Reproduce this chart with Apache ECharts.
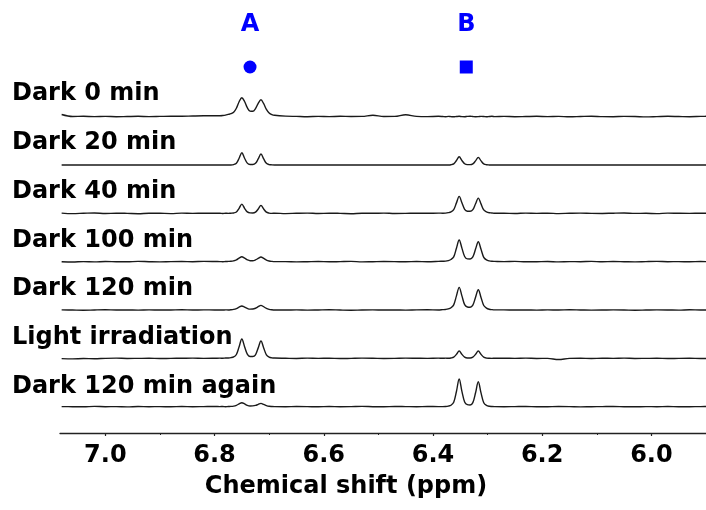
<!DOCTYPE html>
<html>
<head>
<meta charset="utf-8">
<script src="https://cdn.jsdelivr.net/npm/echarts@6/dist/echarts.min.js"></script>
<style>
  html, body { margin: 0; padding: 0; background: #fff; }
  #chart { width: 706px; height: 510px; }
</style>
</head>
<body>
<div id="chart"></div>
<script>
// Chemical shift sampling points (ppm), shared by every spectrum
const shift = [
  7.08, 7.06, 7.04, 7.02, 7.00, 6.98, 6.96, 6.94, 6.92, 6.90, 6.88, 6.86, 6.84, 6.82, 6.80,
  6.79, 6.785, 6.78, 6.775, 6.77, 6.765, 6.76, 6.755, 6.75, 6.745, 6.74, 6.735, 6.73, 6.725, 6.72, 6.715, 6.71, 6.705, 6.70, 6.695, 6.69,
  6.67, 6.65, 6.63, 6.61, 6.59, 6.57, 6.55, 6.53, 6.51, 6.49, 6.47, 6.45, 6.43, 6.41, 6.39,
  6.382, 6.377, 6.372, 6.367, 6.362, 6.357, 6.352, 6.347, 6.342, 6.337, 6.332, 6.327, 6.322, 6.317, 6.312, 6.307, 6.302, 6.297, 6.292, 6.287,
  6.27, 6.25, 6.23, 6.21, 6.19, 6.17, 6.15, 6.13, 6.11, 6.09, 6.07, 6.05, 6.03, 6.01, 5.99, 5.97, 5.95, 5.93, 5.91, 5.89
];

// Spectrum labels, top to bottom
const traceNames = ['Dark 0 min', 'Dark 20 min', 'Dark 40 min', 'Dark 100 min', 'Dark 120 min', 'Light irradiation', 'Dark 120 min again'];

// Intensities (arbitrary units) at each shift value
const dark0 = [
  2.2, 0.2, 0.4, 0.1, 0.3, 0.0, 0.2, 0.4, 0.1, 0.3, 0.5, 0.4, 0.7, 0.9, 0.9,
  1.0, 1.2, 1.6, 2.3, 3.0, 4.5, 8.5, 15.0, 19.0, 15.2, 9.0, 5.6, 5.4, 8.1, 13.4, 17.0, 13.0, 7.4, 3.8, 2.1, 1.4,
  0.6, 0.3, 0.0, 0.3, 0.1, 0.4, 0.2, 0.3, 1.4, 0.2, 0.3, 2.0, 0.3, 0.1, 0.4,
  0.2, 0.0, 0.3, 0.1, -0.1, 0.2, 0.4, 0.1, 0.0, 0.3, 0.5, 0.2, 0.0, 0.1, 0.3, 0.2, -0.1, 0.2, 0.4, 0.1,
  0.3, 0.0, 0.2, 0.4, 0.1, 0.3, -0.1, 0.2, 0.5, 0.1, 0.0, 0.3, 0.2, -0.2, 0.1, 0.4, 0.2, 0.0, 0.3, 0.5
];
const dark20 = [
  0.0, 0.1, 0.0, 0.1, 0.0, 0.0, 0.1, 0.0, 0.1, 0.0, 0.0, 0.1, 0.0, 0.1, 0.1,
  0.0, 0.1, 0.0, 0.1, 0.1, 0.5, 1.8, 6.8, 12.3, 6.8, 1.9, 0.6, 0.6, 1.7, 6.1, 11.0, 6.1, 1.7, 0.5, 0.2, 0.1,
  0.0, 0.1, 0.0, 0.0, 0.1, 0.0, 0.1, 0.0, 0.0, 0.1, 0.0, 0.1, 0.0, 0.0, 0.1,
  0.0, 0.1, 0.1, 0.3, 1.2, 4.6, 8.3, 4.6, 1.3, 0.4, 0.4, 1.2, 4.2, 7.7, 4.2, 1.2, 0.3, 0.1, 0.0, 0.1,
  0.0, 0.1, 0.0, 0.0, 0.1, 0.0, 0.1, 0.0, 0.1, 0.0, 0.0, 0.1, 0.0, 0.1, 0.0, 0.0, 0.1, 0.0, 0.1, 0.0
];
const dark40 = [
  0.3, -0.2, 0.1, 0.4, -0.1, 0.2, 0.0, -0.3, 0.2, 0.1, -0.2, 0.3, 0.0, 0.2, 0.1,
  0.1, -0.1, 0.2, 0.0, 0.2, 0.4, 1.4, 5.1, 9.3, 5.1, 1.5, 0.5, 0.4, 1.2, 4.4, 8.0, 4.4, 1.2, 0.3, 0.0, 0.2,
  -0.2, 0.1, 0.3, -0.1, 0.2, 0.0, -0.3, 0.2, 0.1, 0.3, -0.1, 0.0, 0.2, 0.1, 0.3,
  0.2, 0.3, 0.7, 1.5, 3.7, 10.5, 17.0, 10.6, 4.1, 2.2, 2.1, 3.7, 9.6, 15.3, 9.5, 3.4, 1.4, 0.6, 0.4, 0.1,
  0.2, -0.1, 0.3, 0.0, 0.2, -0.2, 0.1, 0.3, 0.0, -0.1, 0.2, 0.4, 0.0, 0.1, -0.2, 0.3, 0.1, 0.0, 0.2, 0.1
];
const dark100 = [
  0.0, -0.3, 0.1, -0.2, 0.2, 0.0, -0.1, 0.3, 0.0, -0.2, 0.1, 0.2, 0.0, 0.3, 0.2,
  0.1, 0.0, 0.2, 0.3, 0.4, 0.9, 1.8, 3.6, 5.0, 3.6, 1.9, 1.0, 1.0, 1.8, 3.3, 4.7, 3.3, 1.6, 0.7, 0.3, 0.1,
  0.1, -0.2, 0.0, 0.2, -0.1, 0.1, 0.3, -0.2, 0.0, 0.2, 0.1, -0.1, 0.2, 0.0, 0.3,
  0.5, 0.6, 1.1, 2.2, 4.8, 13.5, 21.7, 13.6, 5.2, 2.8, 2.7, 4.8, 12.6, 20.0, 12.4, 4.4, 1.8, 0.8, 0.4, 0.3,
  0.1, 0.3, -0.1, 0.0, 0.2, -0.2, 0.1, 0.0, 0.3, -0.1, 0.2, 0.0, -0.2, 0.1, 0.3, 0.0, 0.1, -0.1, 0.2, 0.0
];
const dark120 = [
  0.2, 0.0, -0.2, 0.1, 0.3, 0.0, 0.1, -0.1, 0.2, 0.0, 0.1, 0.3, 0.0, 0.2, 0.1,
  0.1, 0.0, 0.2, 0.1, 0.3, 0.7, 1.5, 2.9, 4.0, 2.9, 1.6, 0.9, 1.0, 1.8, 3.3, 4.7, 3.3, 1.6, 0.7, 0.3, 0.1,
  0.0, 0.2, -0.1, 0.1, 0.3, 0.0, -0.2, 0.1, 0.2, 0.0, 0.1, -0.1, 0.2, 0.3, 0.1,
  0.4, 0.6, 1.1, 2.3, 5.2, 14.2, 22.7, 14.2, 5.4, 3.0, 2.8, 4.9, 12.8, 20.3, 12.6, 4.5, 1.9, 0.8, 0.4, 0.2,
  0.2, 0.0, 0.1, -0.1, 0.2, 0.0, 0.3, 0.1, -0.1, 0.0, 0.2, 0.1, -0.2, 0.0, 0.2, 0.1, -0.1, 0.3, 0.0, 0.1
];
const light = [
  -0.3, -0.5, -0.2, -0.4, 0.0, 0.2, -0.1, 0.0, 0.1, -0.2, 0.0, 0.1, 0.2, 0.0, 0.1,
  0.2, 0.1, 0.3, 0.4, 0.7, 1.4, 3.9, 11.6, 19.3, 11.7, 4.2, 1.9, 1.8, 3.6, 10.5, 17.3, 10.4, 3.5, 1.2, 0.5, 0.3,
  0.1, -0.1, 0.2, 0.0, 0.1, -0.2, 0.0, 0.2, 0.1, -0.1, 0.0, 0.2, 0.1, 0.0, 0.2,
  0.1, 0.2, 0.1, 0.4, 1.2, 4.0, 7.3, 4.0, 1.2, 0.4, 0.4, 1.2, 4.0, 7.3, 4.0, 1.2, 0.3, 0.1, 0.0, 0.1,
  0.1, 0.0, 0.2, -0.1, 0.0, -1.2, 0.0, 0.1, -0.2, 0.1, 0.0, 0.2, -0.1, 0.0, 0.1, -0.2, 0.0, 0.1, -0.1, 0.0
];
const dark120Again = [
  0.1, 0.0, -0.1, 0.3, 0.0, 0.1, -0.2, 0.2, 0.0, 0.1, -0.1, 0.2, 0.0, 0.1, 0.2,
  0.1, 0.2, 0.0, 0.2, 0.3, 0.6, 1.4, 2.8, 4.0, 2.8, 1.3, 0.7, 0.8, 1.3, 2.3, 3.3, 2.3, 1.1, 0.4, 0.2, 0.1,
  0.0, 0.2, 0.1, -0.1, 0.2, 0.0, 0.1, 0.3, 0.0, -0.1, 0.2, 0.1, 0.0, 0.2, 0.1,
  0.1, 0.2, 0.6, 1.5, 4.4, 15.2, 27.7, 15.3, 4.8, 2.0, 1.7, 4.1, 13.9, 25.0, 13.8, 4.0, 1.3, 0.4, 0.2, 0.1,
  0.0, 0.1, 0.2, -0.1, 0.0, 0.2, 0.1, -0.2, 0.0, 0.1, 0.2, 0.0, -0.1, 0.1, 0.0, 0.2, -0.1, 0.0, 0.1, 0.2
];
const traces = [dark0, dark20, dark40, dark100, dark120, light, dark120Again];

// Axis ticks (ppm)
const tickValues = [6.0, 6.2, 6.4, 6.6, 6.8, 7.0];
const minorTickValues = [6.1, 6.3, 6.5, 6.7, 6.9];

// Signal markers above the stack
const signalNames = ['A', 'B'];
const signalShifts = [6.735, 6.339];
const signalSymbols = ['circle', 'rect'];

// Layout of the stacked traces (vertical units = px of the plot)
const PLOT_HEIGHT = 433;
const TRACE_BASE = 26.3;
const TRACE_STEP = 48.33;
const MARKER_LEVEL = 366;
const LABEL_TOP = 96;
const LABEL_STEP = 48.8;

const FONT = 'DejaVu Sans';
const BLUE = '#0000ff';

const chart = echarts.init(document.getElementById('chart'), null, { renderer: 'canvas' });

const n = traces.length;
const lineSeries = traces.map((vals, i) => {
  const base = TRACE_BASE + (n - 1 - i) * TRACE_STEP;
  return {
    type: 'line',
    name: traceNames[i],
    data: shift.map((x, j) => [x, base + vals[j]]),
    showSymbol: false,
    smooth: 0.35,
    lineStyle: { color: '#1a1a1a', width: 1.4 },
    silent: true,
    z: 2
  };
});

const markerSeries = signalNames.map((name, i) => ({
  type: 'scatter',
  name: name,
  data: [{ name: name, value: [signalShifts[i], MARKER_LEVEL] }],
  symbol: signalSymbols[i],
  symbolSize: 13,
  itemStyle: { color: BLUE, opacity: 1 },
  label: {
    show: true,
    position: 'inside',
    offset: [0, -42],
    formatter: '{b}',
    fontFamily: FONT,
    fontWeight: 'bold',
    fontSize: 24,
    color: BLUE
  },
  silent: true,
  z: 3
}));

const axisCommon = {
  type: 'value',
  inverse: true,
  min: 5.9,
  max: 7.083,
  position: 'bottom',
  splitLine: { show: false }
};

chart.setOption({
  backgroundColor: '#fff',
  animation: false,
  grid: { left: 60, right: 0, top: 0, bottom: 510 - PLOT_HEIGHT, containLabel: false },
  xAxis: [
    Object.assign({}, axisCommon, {
      name: 'Chemical shift (ppm)',
      nameLocation: 'middle',
      nameGap: 42,
      nameTextStyle: {
        fontFamily: FONT, fontWeight: 'bold', fontSize: 24, color: '#000',
        padding: [0, 74, 0, 0]
      },
      axisLine: { onZero: false, lineStyle: { color: '#222', width: 1.3 } },
      axisTick: { show: true, customValues: tickValues, length: 3, lineStyle: { color: '#222', width: 1.2 } },
      axisLabel: {
        customValues: tickValues,
        formatter: v => Number(v).toFixed(1),
        fontFamily: FONT, fontWeight: 'bold', fontSize: 24, color: '#000',
        margin: 11
      }
    }),
    Object.assign({}, axisCommon, {
      axisLine: { show: false, onZero: false },
      axisTick: { show: true, customValues: minorTickValues, length: 2, lineStyle: { color: '#222', width: 1 } },
      axisLabel: { show: false }
    })
  ],
  yAxis: { type: 'value', min: 0, max: PLOT_HEIGHT, show: false },
  graphic: traceNames.map((t, i) => ({
    type: 'text',
    left: 12,
    top: LABEL_TOP + i * LABEL_STEP - 14,
    style: {
      text: t,
      font: 'bold 24px "' + FONT + '"',
      fill: '#000'
    }
  })),
  series: lineSeries.concat(markerSeries)
});
</script>
</body>
</html>
